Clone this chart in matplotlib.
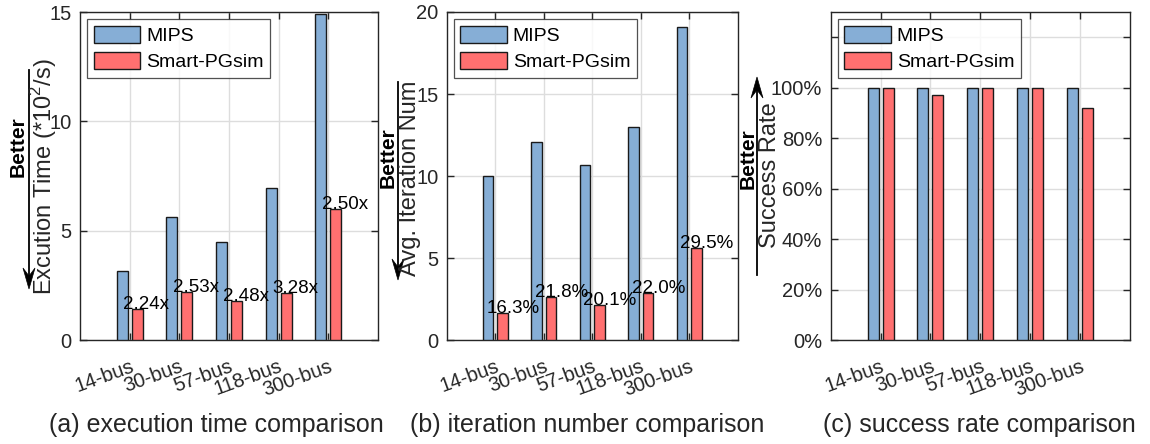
import numpy as np
import matplotlib
matplotlib.use('Agg')
import matplotlib.pyplot as plt
from matplotlib.patches import Polygon
from matplotlib.lines import Line2D
from matplotlib.transforms import ScaledTranslation

plt.rcParams['font.family'] = ['Liberation Sans', 'DejaVu Sans']
plt.rcParams['mathtext.fontset'] = 'custom'
plt.rcParams['mathtext.rm'] = 'Liberation Sans'

# dados
casos = ['14-bus', '30-bus', '57-bus', '118-bus', '300-bus']
tempo_mips = [3.17, 5.61, 4.47, 6.94, 14.9]
tempo_smart = [1.40, 2.21, 1.80, 2.13, 5.97]
tempo_rotulos = ['2.24x', '2.53x', '2.48x', '3.28x', '2.50x']
iter_mips = [10.0, 12.1, 10.7, 13.0, 19.1]
iter_smart = [1.63, 2.64, 2.15, 2.86, 5.63]
iter_rotulos = ['16.3%', '21.8%', '20.1%', '22.0%', '29.5%']
taxa_mips = [1.0, 1.0, 1.0, 1.0, 1.0]
taxa_smart = [1.0, 0.97, 1.0, 1.0, 0.92]

AZUL = '#86AED6'
VERMELHO = '#FF7070'
CINZA = '#262626'
W, H = 1150, 444

fig = plt.figure(figsize=(11.5, 4.44), dpi=100)


def px(x, y):
    return x / W, 1 - y / H


def painel(esq, dir_, ymax, yticks, mips, smart, rotulos=None, desloc=-0.14):
    ax = fig.add_axes([esq / W, 1 - 340 / H, (dir_ - esq) / W, 328 / H])
    x = np.arange(1, len(casos) + 1)
    ax.bar(x - 0.15, mips, 0.22, color=AZUL, edgecolor='#1a1a1a', linewidth=1,
           label='MIPS', zorder=3)
    ax.bar(x + 0.15, smart, 0.22, color=VERMELHO, edgecolor='#1a1a1a', linewidth=1,
           label='Smart-PGsim', zorder=3)
    if rotulos:
        for xi, v, r in zip(x, smart, rotulos):
            ax.text(xi + desloc, v, r, fontsize=13.5, ha='left', va='baseline', zorder=4)
    ax.set_xlim(0, 6)
    ax.set_ylim(0, ymax)
    ax.set_yticks(yticks)
    ax.set_xticks(x)
    ax.set_xticklabels(casos, rotation=20, ha='right', rotation_mode='anchor')
    # deslocar rotulos do eixo x um pouco para a direita
    for lbl in ax.get_xticklabels():
        lbl.set_transform(lbl.get_transform() + ScaledTranslation(0.08, 0, fig.dpi_scale_trans))
    ax.grid(True, color='#dddddd', linewidth=1, zorder=0)
    ax.set_axisbelow(True)
    ax.tick_params(direction='in', top=True, right=True, length=5, width=1,
                   labelsize=14.5, labelcolor=CINZA, color=CINZA, pad=6)
    ax.tick_params(axis='x', pad=12)
    for s in ax.spines.values():
        s.set_color(CINZA)
        s.set_linewidth(1)
    leg = ax.legend(loc='upper left', fontsize=14, frameon=True, fancybox=False,
                    handlelength=2.4, handleheight=1.0, handletextpad=0.3,
                    labelspacing=0.35, borderpad=0.35, borderaxespad=0.35)
    leg.get_frame().set_edgecolor(CINZA)
    leg.get_frame().set_linewidth(0.9)
    return ax


def melhor(xb, yb, xs, y0, y1, rotulo, xl, yl):
    # seta estilo MATLAB (ponta com entalhe)
    s = 1 if y1 > y0 else -1
    entalhe = y1 - s * 13
    fig.add_artist(Line2D([xs / W, xs / W], [1 - y0 / H, 1 - entalhe / H],
                          transform=fig.transFigure, color='black', linewidth=1.3))
    pontos = [px(xs, y1), px(xs - 6, y1 - s * 21), px(xs, entalhe), px(xs + 6, y1 - s * 21)]
    fig.add_artist(Polygon(pontos, closed=True, transform=fig.transFigure,
                           facecolor='black', edgecolor='black', linewidth=0.5))
    fig.text(*px(xb, yb), 'Better', rotation=90, fontsize=15, fontweight='bold',
             ha='center', va='center')
    fig.text(*px(xl, yl), rotulo, rotation=90, fontsize=17, color=CINZA,
             ha='center', va='center')


ax1 = painel(80, 378, 15, [0, 5, 10, 15], tempo_mips, tempo_smart, tempo_rotulos, -0.13)
ax2 = painel(446.7, 737.7, 20, [0, 5, 10, 15, 20], iter_mips, iter_smart, iter_rotulos, -0.18)
ax3 = painel(830.7, 1130, 1.3, [0, 0.2, 0.4, 0.6, 0.8, 1.0, 1.2], taxa_mips, taxa_smart)
ax3.set_yticklabels(['0%', '20%', '40%', '60%', '80%', '100%', ''])

melhor(18, 147, 29, 70, 289, 'Excution Time (*10$^{2}$/s)', 44, 177)
melhor(388, 158, 398, 82, 280, 'Avg. Iteration Num', 410, 178)
melhor(748, 159, 757, 275, 77, 'Success Rate', 770, 175)

fig.text(*px(216, 425), '(a) execution time comparison', fontsize=18, color=CINZA,
         ha='center', va='center')
fig.text(*px(587, 425), '(b) iteration number comparison', fontsize=18, color=CINZA,
         ha='center', va='center')
fig.text(*px(979, 425), '(c) success rate comparison', fontsize=18, color=CINZA,
         ha='center', va='center')

fig.savefig('out.png', dpi=100)
